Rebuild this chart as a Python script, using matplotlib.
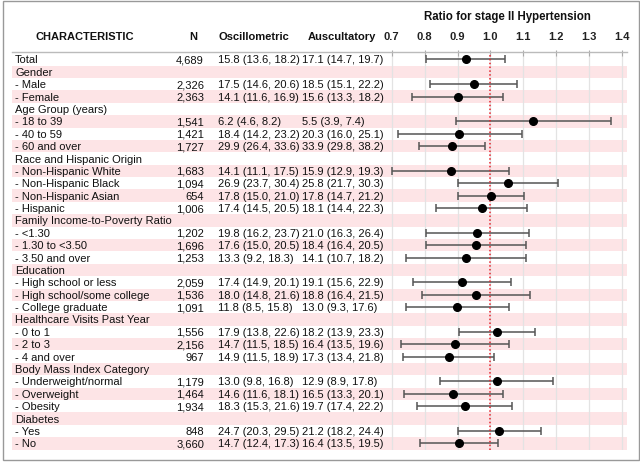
import matplotlib
matplotlib.use("Agg")
import matplotlib.pyplot as plt
from matplotlib.patches import Rectangle
from matplotlib.lines import Line2D

plt.rcParams['font.family'] = ['Liberation Sans', 'DejaVu Sans']

labels = ["Total", "Gender", "- Male", "- Female", "Age Group (years)", "- 18 to 39",
          "- 40 to 59", "- 60 and over", "Race and Hispanic Origin", "- Non-Hispanic White",
          "- Non-Hispanic Black", "- Non-Hispanic Asian", "- Hispanic",
          "Family Income-to-Poverty Ratio", "- <1.30", "- 1.30 to <3.50", "- 3.50 and over",
          "Education", "- High school or less", "- High school/some college",
          "- College graduate", "Healthcare Visits Past Year", "- 0 to 1", "- 2 to 3",
          "- 4 and over", "Body Mass Index Category", "- Underweight/normal",
          "- Overweight", "- Obesity", "Diabetes", "- Yes", "- No"]
n_vals = ["4,689", "", "2,326", "2,363", "", "1,541", "1,421", "1,727", "", "1,683",
          "1,094", "654", "1,006", "", "1,202", "1,696", "1,253", "", "2,059", "1,536",
          "1,091", "", "1,556", "2,156", "967", "", "1,179", "1,464", "1,934", "", "848", "3,660"]
osc = ["15.8 (13.6, 18.2)", "", "17.5 (14.6, 20.6)", "14.1 (11.6, 16.9)", "",
       "6.2 (4.6, 8.2)", "18.4 (14.2, 23.2)", "29.9 (26.4, 33.6)", "",
       "14.1 (11.1, 17.5)", "26.9 (23.7, 30.4)", "17.8 (15.0, 21.0)", "17.4 (14.5, 20.5)", "",
       "19.8 (16.2, 23.7)", "17.6 (15.0, 20.5)", "13.3 (9.2, 18.3)", "",
       "17.4 (14.9, 20.1)", "18.0 (14.8, 21.6)", "11.8 (8.5, 15.8)", "",
       "17.9 (13.8, 22.6)", "14.7 (11.5, 18.5)", "14.9 (11.5, 18.9)", "",
       "13.0 (9.8, 16.8)", "14.6 (11.6, 18.1)", "18.3 (15.3, 21.6)", "",
       "24.7 (20.3, 29.5)", "14.7 (12.4, 17.3)"]
ausc = ["17.1 (14.7, 19.7)", "", "18.5 (15.1, 22.2)", "15.6 (13.3, 18.2)", "",
        "5.5 (3.9, 7.4)", "20.3 (16.0, 25.1)", "33.9 (29.8, 38.2)", "",
        "15.9 (12.9, 19.3)", "25.8 (21.7, 30.3)", "17.8 (14.7, 21.2)", "18.1 (14.4, 22.3)", "",
        "21.0 (16.3, 26.4)", "18.4 (16.4, 20.5)", "14.1 (10.7, 18.2)", "",
        "19.1 (15.6, 22.9)", "18.8 (16.4, 21.5)", "13.0 (9.3, 17.6)", "",
        "18.2 (13.9, 23.3)", "16.4 (13.5, 19.6)", "17.3 (13.4, 21.8)", "",
        "12.9 (8.9, 17.8)", "16.5 (13.3, 20.1)", "19.7 (17.4, 22.2)", "",
        "21.2 (18.2, 24.4)", "16.4 (13.5, 19.5)"]
ratio = [0.926, None, 0.949, 0.900, None, 1.130, 0.906, 0.882, None, 0.879, 1.053, 1.002,
         0.973, None, 0.960, 0.956, 0.925, None, 0.914, 0.956, 0.899, None, 1.019, 0.892,
         0.873, None, 1.019, 0.886, 0.922, None, 1.027, 0.905]
ratio_lo = [0.804, None, 0.815, 0.761, None, 0.896, 0.720, 0.783, None, 0.702, 0.901, 0.901,
            0.835, None, 0.804, 0.804, 0.742, None, 0.766, 0.793, 0.742, None, 0.904, 0.728,
            0.735, None, 0.847, 0.736, 0.777, None, 0.901, 0.786]
ratio_hi = [1.044, None, 1.081, 1.039, None, 1.366, 1.096, 0.985, None, 1.057, 1.204, 1.102,
            1.111, None, 1.116, 1.108, 1.107, None, 1.064, 1.120, 1.056, None, 1.135, 1.058,
            1.010, None, 1.189, 1.038, 1.066, None, 1.155, 1.024]
ticks = [0.7, 0.8, 0.9, 1.0, 1.1, 1.2, 1.3, 1.4]
tick_labels = ["0.7", "0.8", "0.9", "1.0", "1.1", "1.2", "1.3", "1.4"]
headers = ["CHARACTERISTIC", "N", "Oscillometric", "Auscultatory"]
title = "Ratio for stage II Hypertension"

W, H = 640, 462
fig = plt.figure(figsize=(W / 100, H / 100), dpi=100)
FS = 8
PINK = "#fde4e6"
nrows = len(labels)
top_px, bot_px = 53.3, 449.5

def fy(px):
    return 1 - px / H

# table axes (full width, x in pixels, y in rows)
tab = fig.add_axes([0, fy(bot_px), 1, (bot_px - top_px) / H])
tab.set_xlim(0, W)
tab.set_ylim(nrows - 0.5, -0.5)
tab.axis("off")
for i in range(nrows):
    if i % 2 == 1:
        tab.add_patch(Rectangle((12, i - 0.5), 627 - 12, 1, facecolor=PINK,
                                edgecolor="none", zorder=0))
    tab.text(15, i, labels[i], fontsize=FS, va="center_baseline", ha="left", color="#111")
    tab.text(204, i, n_vals[i], fontsize=FS, va="center_baseline", ha="right", color="#111")
    tab.text(218, i, osc[i], fontsize=FS, va="center_baseline", ha="left", color="#111")
    tab.text(302, i, ausc[i], fontsize=FS, va="center_baseline", ha="left", color="#111")

# forest axes
x0_px, x1_px = 388, 627
scale = (622 - 391.7) / 0.7
xmin = 0.7 - (391.7 - x0_px) / scale
xmax = 1.4 + (x1_px - 622) / scale
fa = fig.add_axes([x0_px / W, fy(bot_px), (x1_px - x0_px) / W, (bot_px - top_px) / H])
fa.patch.set_alpha(0)
fa.set_xlim(xmin, xmax)
fa.set_ylim(nrows - 0.5, -0.5)
for s in fa.spines.values():
    s.set_visible(False)
fa.set_yticks([])
fa.set_xticks(ticks)
fa.set_xticklabels(tick_labels, fontsize=FS, fontweight="bold", color="#222")
fa.xaxis.set_ticks_position("top")
fa.tick_params(axis="x", length=4, width=0.8, color="#aaa", pad=6, direction="inout")
for t in ticks:
    fa.axvline(t, color="#e3e3e3", lw=0.9, zorder=1)
fa.axvline(1.0, color="#e8202a", lw=1.1, ls=(0, (1, 1.5)), zorder=4)
for i in range(nrows):
    if ratio[i] is None:
        continue
    fa.errorbar([ratio[i]], [i], xerr=[[ratio[i] - ratio_lo[i]], [ratio_hi[i] - ratio[i]]],
                fmt="none", ecolor="#555", elinewidth=1.1, capsize=3, capthick=1.1, zorder=3)
    fa.plot([ratio[i]], [i], "o", color="black", ms=5.5, zorder=5)
fa.set_title(title, fontsize=FS + 0.3, fontweight="bold", pad=0, color="#111",
             y=1 + (53.3 - 16.7) / (bot_px - top_px), va="center")

# headers
hy = fy(36.5)
fig.text(85 / W, hy, headers[0], fontsize=FS, fontweight="bold", ha="center", va="center", color="#111")
fig.text(193 / W, hy, headers[1], fontsize=FS, fontweight="bold", ha="center", va="center", color="#111")
fig.text(254 / W, hy, headers[2], fontsize=FS, fontweight="bold", ha="center", va="center", color="#111")
fig.text(342 / W, hy, headers[3], fontsize=FS, fontweight="bold", ha="center", va="center", color="#111")

# header separator line and frame
fig.add_artist(Line2D([12 / W, 627 / W], [fy(51.5), fy(51.5)], color="#bbb", lw=1.0))
fig.add_artist(Rectangle((3 / W, fy(460)), 636 / W, 459 / H, transform=fig.transFigure,
                         fill=False, edgecolor="#999", lw=1.0))

fig.savefig("out.png", dpi=100)
